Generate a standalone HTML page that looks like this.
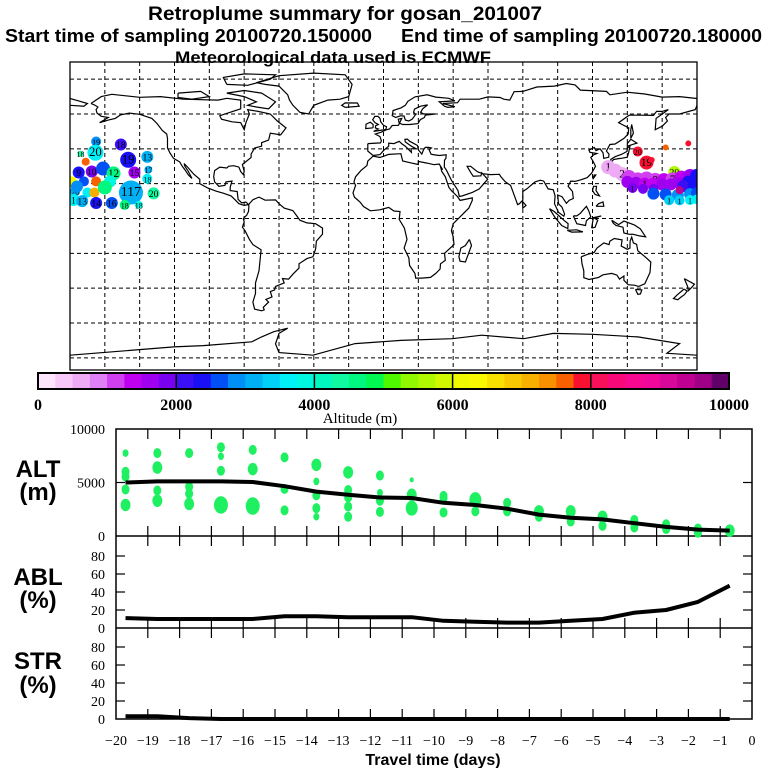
<!DOCTYPE html>
<html><head><meta charset="utf-8"><title>Retroplume summary</title>
<style>
html,body{margin:0;padding:0;background:#fff;}
svg{display:block;}
</style></head>
<body>
<svg id="chart" xmlns="http://www.w3.org/2000/svg" width="768" height="768" viewBox="0 0 768 768">
  <rect x="0" y="0" width="768" height="768" fill="#fff"/>
  <text x="148" y="20" font-family="Liberation Sans, sans-serif" font-weight="bold" font-size="19" textLength="394" lengthAdjust="spacingAndGlyphs">Retroplume summary for gosan_201007</text>
  <text x="5" y="42" font-family="Liberation Sans, sans-serif" font-weight="bold" font-size="18" textLength="367" lengthAdjust="spacingAndGlyphs">Start time of sampling 20100720.150000</text>
  <text x="401" y="42" font-family="Liberation Sans, sans-serif" font-weight="bold" font-size="18" textLength="361" lengthAdjust="spacingAndGlyphs">End time of sampling 20100720.180000</text>
  <text x="175" y="63" font-family="Liberation Sans, sans-serif" font-weight="bold" font-size="17" textLength="316" lengthAdjust="spacingAndGlyphs">Meteorological data used is ECMWF</text>
  <g id="map"></g>
  <g id="cbar"></g>
  <g id="panels"></g>
</svg>
<script>
// ---------- data ----------
const days = [-19.7,-18.7,-17.7,-16.7,-15.7,-14.7,-13.7,-12.7,-11.7,-10.7,-9.7,-8.7,-7.7,-6.7,-5.7,-4.7,-3.7,-2.7,-1.7,-0.7];
const altMean = [5000,5100,5100,5100,5050,4650,4150,3850,3600,3550,3100,2900,2550,2000,1700,1550,1200,850,600,500];
const ablPct = [11,10,10,10,10,13,13,12,12,12,8,7,6,6,8,10,17,20,29,47];
const strPct = [3,3,1,0,0,0,0,0,0,0,0,0,0,0,0,0,0,0,0,0];
const dotCol = [0,0,0,0,0, 1,1,1,1, 2,2,2,2, 3,3,3,3, 4,4,4, 5,5,5, 6,6,6,6,6, 7,7,7,7,7, 8,8,8,8, 9,9,9, 10,10,10, 11,11, 12,12, 13,13, 14,14, 15,15, 16,16, 17,17, 18,18, 19];
const dotAlt = [7750,6000,5550,4350,2900, 7750,6400,4250,3300, 7750,4600,3950,3000, 8300,7450,6100,2900, 8050,6250,2800, 7350,4400,2400, 6650,5100,3800,2600,1800, 5950,4300,3600,2750,1800, 5650,4050,3300,2250, 5250,3850,2600, 3750,3550,2200, 3400,2300, 3100,2300, 2300,1800, 2300,1350, 1800,950, 1500,800, 1100,650, 700,300, 500];
const dotSize = [3,4,4,4,5, 4,5,4,5, 4,4,4,5, 4,3,4,7, 4,5,7, 4,4,4, 5,3,4,4,3, 5,4,4,4,4, 4,3,4,4, 2,5,6, 4,4,4, 6,4, 4,4, 5,4, 5,4, 5,4, 4,4, 4,4, 4,4, 5];
const altTicks = [0,5000,10000];
const pctTicks = [0,20,40,60,80];
const dayTicks = [-20,-19,-18,-17,-16,-15,-14,-13,-12,-11,-10,-9,-8,-7,-6,-5,-4,-3,-2,-1,0];
const cbarColors = ["#fde6fb","#f8c8f8","#eeaaf5","#e080f5","#d040f0","#c000f0","#a000f0","#7a00f0",
 "#3c10f5","#1a10f5","#0050f5","#0090f5","#00b0f5","#00d0f5","#00f0f8","#00f8e0",
 "#00f8c0","#10f8a0","#00f880","#00f850","#50f800","#90f800","#b0f800","#d0f800",
 "#f0f800","#f8f800","#f8e000","#f8c800","#f8b000","#f89000","#f86000","#f81030",
 "#f8105a","#f80878","#f80890","#f0089a","#d8089a","#c00090","#a00088","#600068"];
const cbarLabels = [0,2000,4000,6000,8000,10000];
// plume markers: lon, lat, colour index, radius, label
const plumeLon = [-165,-150.8,-174,-165.4,-171,-146.6,-135.6,-135,-135.6,-143,-175,-167.5,-161,-155,-157,-172,-165,-179,-177,-170,-166,-160,-145,-132,-178,-173,-165,-156,-148.6,-140.5,-176,
 146,162,175,151,154,167, 129,133,137,141,146,151,156,161,166,171,176,180, 140,145,150,155,160,165,170,175, 143,149,155, 172,178, 155,162,169,176,180, 164,170,176,180, 170];
const plumeLat = [44.2,42.5,37.2,37.8,32.6,33.7,35.4,28,22.8,26.4,26.4,27,28.7,25.9,21.3,21.3,21.3,21.3,15.5,14.9,14.9,17.8,14.9,14.4,10.6,10,8.9,8.9,7.8,7.8,18.4,
 38.5,40.8,43.1,32.1,33.6,26.7, 29.5,27.5,25.5,23.8,22.5,23,22.2,22,22.5,23.5,24.4,24.5, 21,20.5,20,20,19.5,19.6,20.3,21.2, 17.5,17,17, 18.5,18.8, 14.3,13.8,13.5,14.0,14.5, 10.5,10.4,10.6,11.0, 16.3];
const plumeCol = [11,8,17,14,30,9,12,12,14,6,9,7,10,18,15,10,30,25,12,14,28,18,12,17,14,12,9,10,18,15,11,
 31,30,31,31,31,22, 2,2,2,4,4,4,4,5,4,5,6,9, 6,6,5,5,6,6,6,9, 7,7,7, 8,9, 10,10,11,11,10, 13,13,14,14, 37];
const plumeR = [5,6,3,8,4,8,6,4,5,6,6,6,7,7,6,5,5,5,5,5,5,7,12,6,6,6,6,6,5,4,6,
 5,3,3,7,3,6, 7,7,7,7,7,7,7,7,7,7,7,7, 6,6,6,6,6,6,6,6, 5,5,5, 6,6, 6,6,6,6,6, 5,5,5,5, 4];
const plumeLab = ["19","18","18","20","","19","13","17","18","15","9","10","","12","","","","","20","","","","117","20","1","13","14","16","18","18","",
 "20","","","19","","20", "1","","2","","","","8","","7","","","", "","","1","","","","","", "1","","", "","", "","","","","", "1","1","1","", ""];
// coastlines [lon,lat]
const coastPolys = [
 [[-168,66],[-162,70],[-156,71.3],[-140,69.6],[-128,70],[-115,68.5],[-95,68],[-90,69],[-82,68],[-82,63],[-94,59],[-93,57],[-87,55.5],[-82,55],[-80,51],[-79,55],[-77,60],[-78,62.5],[-72,61.5],[-65,60],[-61,56],[-56,52],[-59,48],[-65,49],[-66,45],[-70,43.5],[-70,41.5],[-74,40.5],[-76,37],[-76,35],[-81,31],[-80,27],[-80.5,25.2],[-82,27],[-83,29.5],[-86,30.3],[-89,30],[-90,29],[-94,29.5],[-97,27.5],[-97.5,24],[-97,21],[-94.5,18.5],[-91,19],[-90.5,21],[-87,21.5],[-88,18],[-88,16],[-84,15.5],[-83.5,11],[-81.5,9],[-79,9.5],[-77.5,8],[-80,7.5],[-83,8.5],[-85.5,11],[-87.5,13],[-92,14.5],[-96,15.7],[-101,17.5],[-105.5,20],[-105.5,22.5],[-109,25.5],[-112.5,29.5],[-114.5,31.5],[-114,30],[-112,27],[-110,23],[-112,25],[-114,28],[-115.5,30],[-117,32.5],[-120.5,34.5],[-122.5,37.5],[-124,40.5],[-124,46],[-124.5,48.5],[-127,50.5],[-130,54.5],[-133,57.5],[-137,58.8],[-140,59.8],[-146,60.5],[-151,59.5],[-154,57.5],[-158,56.5],[-163,55],[-158,58],[-162,58.7],[-164.5,60.5],[-165,62.5],[-164,64],[-166,65.2],[-168,66]],
 [[-73,78],[-60,82],[-40,83.5],[-22,82.5],[-18,77],[-20,70],[-25,68.5],[-32,68],[-40,65],[-43,60],[-48,61],[-52,65],[-54,68],[-55,71],[-60,76],[-68,77],[-73,78]],
 [[-80,73.5],[-70,72],[-62,67],[-66,63],[-73,64],[-78,65],[-73,67],[-80,70],[-90,72],[-80,73.5]],
 [[-118,72],[-105,73],[-100,70],[-110,68.5],[-118,69.5],[-118,72]],
 [[-90,77],[-78,76.5],[-65,80],[-62,82.5],[-80,83],[-92,81],[-90,77]],
 [[-77.5,8],[-75,10.8],[-71.5,12.3],[-68,10.5],[-62,10.7],[-60,8.5],[-57,6],[-52,4.5],[-50,1.8],[-48,-1],[-44,-2.5],[-39,-3],[-35,-5.5],[-35,-9],[-38.5,-13],[-39,-17.5],[-40.5,-22],[-44,-23],[-48.5,-26],[-48.5,-28.5],[-52,-32],[-54.5,-34.8],[-58,-34.5],[-57,-37],[-62,-39],[-62.5,-41],[-65,-42],[-64,-45],[-67.5,-46.5],[-66,-48],[-69,-51],[-68.5,-52.5],[-70,-53],[-74,-52],[-75,-48],[-73.5,-43],[-73.5,-37],[-71.5,-30],[-70.3,-18],[-75,-15],[-77,-12],[-79.5,-7],[-81,-5],[-80,-2],[-80.5,0],[-78.5,2],[-77.5,4],[-77.3,7],[-77.5,8]],
 [[-17,21],[-16,24],[-13,27.5],[-9.5,30.5],[-9,33],[-6,35.8],[-2,35],[3,36.8],[10,37.2],[11,33],[15.5,32],[20,31],[20,32.8],[25,31.8],[29,30.9],[32,31.3],[34,28],[32.7,29.8],[33.5,27],[35.5,24],[37.5,18],[39,16],[42.5,12.6],[44,10.4],[51,11.8],[51,10.4],[49,6],[44,1],[40,-3],[39,-7],[40,-10.5],[40.5,-15],[35,-20],[35.5,-24],[32.7,-26],[32.5,-29],[30,-31.5],[27,-33.8],[22,-34.2],[18.5,-34.2],[18,-31.5],[15,-27],[14.5,-22.5],[11.8,-17],[13.5,-12],[12,-5.5],[9,-0.5],[9.5,4],[6,4.3],[3,6.4],[-2,5],[-7.5,4.4],[-11.5,6.9],[-13.5,9.5],[-16.7,12.3],[-17.5,14.7],[-16,19],[-17,21]],
 [[49.3,-12],[50.5,-15.5],[47,-25],[44,-24.5],[43.3,-22],[44.4,-17],[47,-15.5],[49.3,-12]],
 [[-9,43],[-9,38.7],[-6,36.2],[-2,36.7],[0,39],[3,41.5],[3,43.3],[6,43],[9,44.3],[10.5,42.9],[12.5,41.5],[16,38],[15.8,40],[18.5,40.2],[16,41.5],[12.5,44],[12.3,45.5],[13.7,45.6],[15,44.4],[19.5,41.9],[20,39.5],[22,37],[23,39.5],[24,40.8],[26,40.8],[27.5,40.5],[26.2,39.5],[27.3,37],[28.5,36.7],[32,36.2],[36,36.6],[35.8,34.5],[35,33.5],[34.9,29.5],[36,28],[39,22],[42.8,16],[43.5,12.7],[45,12.9],[51,15],[55,17],[58,20.5],[59.8,22.5],[56.4,26.3],[56,24.5],[51.5,24.3],[50,26.5],[48,30],[50,30],[54,26.8],[57,25.7],[61.5,25.2],[66.5,25.4],[67.5,23.8],[70,21],[73,19],[74.5,14.8],[77,8],[78,8.5],[80,10.5],[80,15.5],[82.3,17],[87,21],[90,22],[92,21.5],[94.5,17],[97.5,16.5],[98.5,13],[98.2,8.5],[100.5,3.5],[103.5,1.3],[104,2.5],[102.5,6.5],[100.5,8.5],[100,13.5],[102.5,12.5],[105,8.7],[106.7,10.5],[109,11.5],[108.5,15.5],[106,18.5],[107.5,21.5],[110,21.3],[113.5,22.3],[117,23.5],[119.5,26],[121.7,30],[120.5,32.5],[119,35],[120.5,36.5],[122.5,37.3],[118.5,38],[118,39.2],[121,40.8],[122,39],[124.3,40],[126,37.8],[126.5,34.5],[129.3,35.2],[129.5,37],[128,38.7],[130,42.5],[133,42.8],[138,46],[140.5,48.5],[140.8,52],[137,54],[135,55],[141,59.3],[148,59.3],[155,59.2],[156.8,61.5],[160,61.5],[163.5,62.5],[156.5,57.5],[156,51],[160,53],[163,56],[162,58],[164,60],[170,60],[179,62.5],[180,65],[180,68.9],[170,70],[160,69.7],[150,71.5],[140,72.5],[130,71],[128,73],[113,73.7],[110,76.7],[105,77.5],[98,76],[88,75.5],[80,73],[75,72.8],[72.5,68],[69,68.5],[67,69.5],[60,69.8],[55,68.5],[44,68.5],[42.5,66.5],[34,66],[41,64.2],[37,63.8],[35,64.5],[32,67],[41,67.5],[37.5,69],[30,69.7],[25,71],[18,69.8],[14,67.3],[12.5,65],[10,63.5],[5.5,62],[5,59],[7,58],[10,59],[11.8,58.8],[12.5,56.5],[14.5,56],[16.5,57],[18.5,59.8],[17.3,61],[17.8,62.8],[21.3,64.5],[25.3,65.2],[22.5,63],[21.3,61],[23,60],[29.8,60],[24,59.3],[23.5,58],[21.2,56.8],[19.8,54.5],[15,54],[11,54],[9,54.8],[8.5,57],[10.5,57.5],[8.6,53.5],[5,53.4],[3.5,51.4],[1.6,50.9],[-1.5,49.5],[-4.7,48.5],[-2,47],[-1.2,44.5],[-1.8,43.4],[-9,43]],
 [[-180,65],[-172,64.5],[-170,66],[-175,67.5],[-180,68.9]],
 [[-5.7,50],[1.4,51.1],[1.7,52.7],[0,53.5],[-1.6,55.6],[-2,57.5],[-3.1,58.6],[-5,58.6],[-6.2,56.7],[-4.9,55],[-3,54],[-4.5,53.3],[-4.7,52],[-3,51.4],[-5.7,50]],
 [[-6,52.1],[-6,54],[-7.5,55.3],[-10,54.2],[-10.2,51.6],[-6,52.1]],
 [[-22,63.8],[-14,64.5],[-15,66.3],[-22,66.4],[-24,65],[-22,63.8]],
 [[130.5,31.5],[132,33.9],[135,34.4],[137,34.6],[140,35.2],[140.8,38],[141.5,41.3],[140,40.6],[139.8,38.5],[137,37],[133,35.5],[130.5,34],[130.5,31.5]],
 [[140,41.5],[145.5,43.3],[142,45.5],[140,43],[140,41.5]],
 [[142,46],[143.5,49],[142.5,54],[142,51],[142,46]],
 [[120.2,22.5],[121.9,25],[121,25],[120.2,22.5]],
 [[120,16],[120.6,18.5],[122.3,18.5],[122,16],[124,13],[121.5,13.8],[120,16]],
 [[122,7],[126.5,7],[126,9.5],[123.5,8.5],[122,7]],
 [[109,1.5],[111,-3],[116,-4],[116.5,-1.3],[119,1],[117.8,4.5],[116.5,7],[113,3],[111,1.5],[109,1.5]],
 [[95.3,5.6],[98,4],[103.5,-1],[106,-3],[105.8,-5.8],[102.3,-4],[98.5,0.5],[95.3,5.6]],
 [[105.5,-6.8],[111,-6.5],[114.5,-7.7],[108,-7.8],[105.5,-6.8]],
 [[119.5,-5.5],[120.5,0.5],[125,1.5],[121,0.3],[123,-1],[121.5,-5],[119.5,-5.5]],
 [[131,-1],[135,-3.5],[138,-1.5],[144,-3.7],[147.5,-6],[150.5,-10.5],[147,-10],[143,-9],[141,-9.1],[138,-8.3],[137.5,-5],[133.5,-4],[132,-2.8],[131,-1]],
 [[113.5,-22],[114,-26],[115,-30],[115,-34],[118,-35],[123.5,-33.8],[126,-32.3],[131,-31.5],[134,-32.5],[135.5,-34.8],[138,-33],[138,-35.5],[140.5,-38],[144,-38.3],[146.5,-39],[150,-37.5],[153,-31],[153.5,-25],[150.8,-22.5],[146,-18.5],[145.3,-14.8],[143.5,-14],[142.5,-10.7],[141.6,-13],[141.5,-17],[140,-17.7],[136.5,-15.8],[137,-12.3],[132.5,-11.5],[130,-13],[129.5,-15],[126.5,-14],[122.5,-17],[121,-19.5],[117,-20.6],[113.5,-22]],
 [[144.7,-40.7],[148.3,-41],[147.5,-43.3],[146,-43.5],[144.7,-40.7]],
 [[172.7,-34.5],[178.5,-37.7],[177,-39.5],[175,-41.5],[174.6,-39],[172.7,-34.5]],
 [[172.6,-40.5],[174.3,-41.7],[172.8,-43.7],[171,-45],[169,-46.6],[166.5,-46],[168.5,-44],[172.6,-40.5]],
 [[79.8,9.8],[81.8,7.5],[80,6],[79.8,9.8]]
];
const antarctic = [[-180,-78.5],[-120.4,-73.7],[-103.5,-73],[-75.6,-70.8],[-70,-68],[-63,-65],[-55,-63],[-60,-66],[-62,-72],[-60,-77],[-40.5,-78.5],[-16.3,-71.8],[10,-70],[39.4,-69],[56.4,-67],[80.5,-69],[97.5,-66],[120,-66.5],[146,-68],[170,-71.8],[162.7,-77.4],[180,-78.5]];

// ---------- helpers ----------
const NS = "http://www.w3.org/2000/svg";
function mk(tag, attrs, parent){ const e=document.createElementNS(NS,tag); for(const k in attrs) e.setAttribute(k,attrs[k]); parent.appendChild(e); return e; }
const map = document.getElementById('map');
const MX0=70, MX1=697, MY0=62, MY1=370, PPD=(MX1-MX0)/360;
function xMap(lon){ return MX0+(lon+180)*PPD; }
function yMap(lat){ return 218.5-lat*PPD; }

// ---------- map ----------
const defs = mk('defs',{},map);
const cp = mk('clipPath',{id:'mapclip'},defs);
mk('rect',{x:MX0,y:MY0,width:MX1-MX0,height:MY1-MY0},cp);
const mg = mk('g',{'clip-path':'url(#mapclip)'},map);
for(let lon=-160; lon<180; lon+=20){
  const l = mk('line',{x1:xMap(lon),x2:xMap(lon),y1:MY0,y2:MY1,stroke:'#000','stroke-width':1,'stroke-dasharray':'4,3'},mg);
  
  
}
for(let lat=80; lat>-90; lat-=20){
  const l = mk('line',{x1:MX0,x2:MX1,y1:yMap(lat),y2:yMap(lat),stroke:'#000','stroke-width':1,'stroke-dasharray':'4,3'},mg);
  
  
}
coastPolys.forEach(p=>{
  const d = p.map((q,i)=>(i?'L':'M')+xMap(q[0]).toFixed(1)+','+yMap(q[1]).toFixed(1)).join('');
  const e = mk('path',{d:d,fill:'none',stroke:'#000','stroke-width':1.2},mg);
  
  
});
{
  const d = antarctic.map((q,i)=>(i?'L':'M')+xMap(q[0]).toFixed(1)+','+yMap(q[1]).toFixed(1)).join('');
  const e = mk('path',{d:d,fill:'none',stroke:'#000','stroke-width':1.2},mg);
  
  
}
for(let i=0;i<plumeLon.length;i++){
  const cx=xMap(plumeLon[i]), cy=yMap(plumeLat[i]);
  const c = mk('circle',{cx:cx,cy:cy,r:plumeR[i],fill:cbarColors[plumeCol[i]]},mg);
  
  
  if(plumeLab[i]){
    const t = mk('text',{x:cx,y:cy+3.5,'text-anchor':'middle','font-family':'Liberation Serif, serif','font-size':Math.max(8,Math.min(14,plumeR[i]*1.6)),fill:'#000'},mg);
    t.textContent = plumeLab[i];
    
    
  }
}
{
  const fr = mk('rect',{x:MX0,y:MY0,width:MX1-MX0,height:MY1-MY0,fill:'none',stroke:'#000','stroke-width':1.3},map);
  
  
}

// ---------- colorbar ----------
const cb = document.getElementById('cbar');
const CB0=38, CB1=729, CBY=373, CBH=16;
function xCb(v){ return CB0+(v/10000)*(CB1-CB0); }
cbarColors.forEach((c,i)=>{
  const r = mk('rect',{x:xCb(i*250),y:CBY,width:xCb((i+1)*250)-xCb(i*250)+0.5,height:CBH,fill:c},cb);
  
  
});
mk('rect',{x:CB0,y:CBY,width:CB1-CB0,height:CBH,fill:'none',stroke:'#000','stroke-width':2},cb);
cbarLabels.forEach(v=>{
  if(v>0 && v<10000) mk('line',{x1:xCb(v),x2:xCb(v),y1:CBY,y2:CBY+CBH,stroke:'#000','stroke-width':1.5},cb);
  const t = mk('text',{x:xCb(v),y:410,'text-anchor':'middle','font-family':'Liberation Serif, serif','font-weight':'bold','font-size':16},cb);
  t.textContent = v;
  
  
});
{
  const t = mk('text',{x:360,y:423,'text-anchor':'middle','font-family':'Liberation Serif, serif','font-size':15},cb);
  t.textContent = 'Altitude (m)';
  
  
}

// ---------- time-series panels ----------
const pg = document.getElementById('panels');
const PX0=116, PX1=752;
function xDay(d){ return PX1+d*(PX1-PX0)/20; }
const ALT_Y0=536, ALT_Y1=429;
function yAlt(v){ return ALT_Y0-(v/10000)*(ALT_Y0-ALT_Y1); }
function yAbl(v){ return 628-v*0.9; }
function yStr(v){ return 719-v*0.9; }
// frames
mk('rect',{x:PX0,y:429,width:PX1-PX0,height:719-429,fill:'none',stroke:'#000','stroke-width':1.5},pg);
mk('line',{x1:PX0,x2:PX1,y1:536,y2:536,stroke:'#000','stroke-width':1.5},pg);
mk('line',{x1:PX0,x2:PX1,y1:628,y2:628,stroke:'#000','stroke-width':1.5},pg);
// x ticks
[[429,1],[536,-1],[536,1],[628,-1],[628,1],[719,-1]].forEach(p=>{
  dayTicks.forEach(d=>{
    if(d===-20||d===0) return;
    mk('line',{x1:xDay(d),x2:xDay(d),y1:p[0],y2:p[0]+p[1]*10,stroke:'#000','stroke-width':1.2},pg);
  });
});
dayTicks.forEach(d=>{
  const t = mk('text',{x:xDay(d),y:745,'text-anchor':'middle','font-family':'Liberation Serif, serif','font-size':14},pg);
  t.textContent = d<0 ? '\u2212'+Math.abs(d) : String(d);
  
  
});
{
  const t = mk('text',{x:433,y:765,'text-anchor':'middle','font-family':'Liberation Sans, sans-serif','font-weight':'bold','font-size':16},pg);
  t.textContent = 'Travel time (days)';
  
  
}
// y ticks
altTicks.forEach(v=>{
  const y=yAlt(v);
  if(v>0 && v<10000){ mk('line',{x1:PX0,x2:PX0+9,y1:y,y2:y,stroke:'#000','stroke-width':1.2},pg); mk('line',{x1:PX1,x2:PX1-9,y1:y,y2:y,stroke:'#000','stroke-width':1.2},pg); }
  const t = mk('text',{x:105,y:y+5,'text-anchor':'end','font-family':'Liberation Serif, serif','font-size':14},pg);
  t.textContent = v;
  
  
});
[[yAbl,'abl-tick-label'],[yStr,'str-tick-label']].forEach(p=>{
  pctTicks.forEach(v=>{
    const y=p[0](v);
    if(v>0){ mk('line',{x1:PX0,x2:PX0+9,y1:y,y2:y,stroke:'#000','stroke-width':1.2},pg); mk('line',{x1:PX1,x2:PX1-9,y1:y,y2:y,stroke:'#000','stroke-width':1.2},pg); }
    const t = mk('text',{x:105,y:y+5,'text-anchor':'end','font-family':'Liberation Serif, serif','font-size':14},pg);
    t.textContent = v;
    
    
  });
});
// panel titles
[['ALT',477,'alt-panel-title'],['(m)',500,'alt-panel-unit'],['ABL',585,'abl-panel-title'],['(%)',608,'abl-panel-unit'],['STR',669,'str-panel-title'],['(%)',693,'str-panel-unit']].forEach(p=>{
  const t = mk('text',{x:38,y:p[1],'text-anchor':'middle','font-family':'Liberation Sans, sans-serif','font-weight':'bold','font-size':24},pg);
  t.textContent = p[0];
  
  
});
// green altitude dots
for(let i=0;i<dotCol.length;i++){
  const e = mk('ellipse',{cx:xDay(days[dotCol[i]]),cy:yAlt(dotAlt[i]),rx:dotSize[i],ry:dotSize[i]*1.25,fill:'#1ef062'},pg);
  
  
}
function line(vals, yf, name){
  const d = vals.map((v,i)=>(i?'L':'M')+xDay(days[i]).toFixed(1)+','+yf(v).toFixed(1)).join('');
  const p = mk('path',{d:d,fill:'none',stroke:'#000','stroke-width':4,'stroke-linejoin':'round'},pg);
  
  
}
line(altMean, yAlt, 'alt-mean-line');
line(ablPct, yAbl, 'abl-line');
line(strPct, yStr, 'str-line');
</script>
</body></html>
